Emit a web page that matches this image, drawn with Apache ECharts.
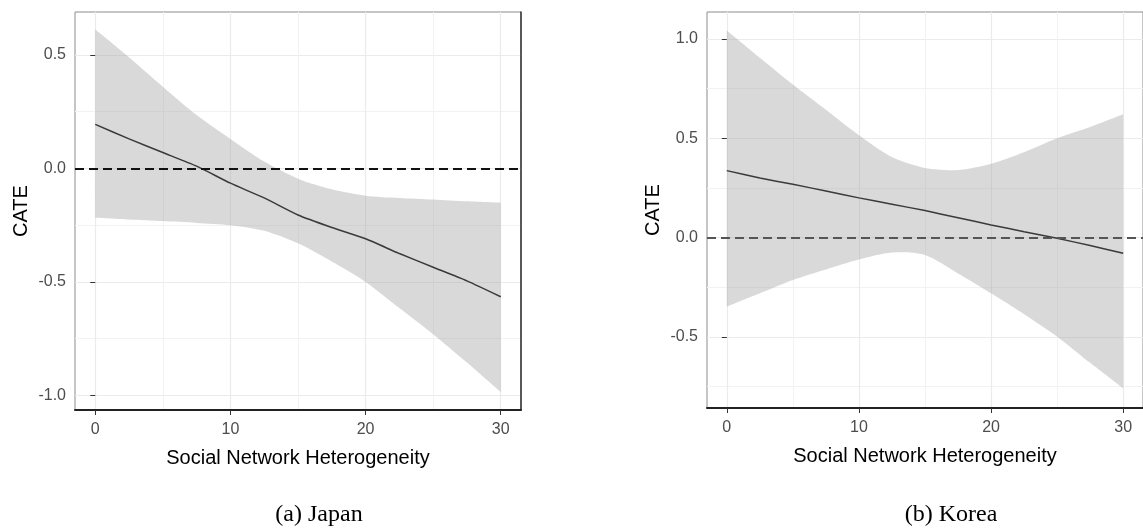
<!DOCTYPE html>
<html>
<head>
<meta charset="utf-8">
<script src="https://cdn.jsdelivr.net/npm/echarts@6/dist/echarts.min.js"></script>
<style>
html,body{margin:0;padding:0;background:#fff;}
#chart{width:1143px;height:531px;}
</style>
</head>
<body>
<div id="chart"></div>
<script>
// ---- data ----
const xVals = [0, 2.5, 5, 7.5, 10, 12.5, 15, 17.5, 20, 22.5, 25, 27.5, 30];

const japanUpper = [0.612, 0.49, 0.36, 0.235, 0.13, 0.03, -0.045, -0.092, -0.12, -0.13, -0.137, -0.145, -0.151];
const japanLower = [-0.217, -0.225, -0.232, -0.24, -0.25, -0.275, -0.33, -0.41, -0.5, -0.615, -0.73, -0.855, -0.985];
const japanFit   = [0.194, 0.13, 0.07, 0.01, -0.065, -0.13, -0.205, -0.26, -0.31, -0.375, -0.435, -0.495, -0.565];

const koreaUpper = [1.042, 0.905, 0.77, 0.643, 0.515, 0.405, 0.35, 0.34, 0.372, 0.43, 0.5, 0.557, 0.621];
const koreaLower = [-0.347, -0.28, -0.213, -0.16, -0.11, -0.075, -0.087, -0.18, -0.28, -0.385, -0.498, -0.63, -0.758];
const koreaFit   = [0.337, 0.30, 0.268, 0.235, 0.20, 0.168, 0.136, 0.10, 0.064, 0.03, -0.003, -0.04, -0.079];

const xTicks = [0, 10, 20, 30];
const xMinor = [5, 15, 25];
const japanYTicks = [-1, -0.5, 0, 0.5];
const japanYMinor = [-0.75, -0.25, 0.25];
const koreaYTicks = [-0.5, 0, 0.5, 1];
const koreaYMinor = [-0.75, -0.25, 0.25, 0.75];

const xTitle = 'Social Network Heterogeneity';
const yTitle = 'CATE';
const captions = ['(a) Japan', '(b) Korea'];

// ---- helpers ----
const pairs = (xs, ys) => xs.map((x, i) => [x, ys[i]]);
const bandRows = (xs, up, lo) => xs.map((x, i) => [x, up[i], lo[i]]);

const SANS = 'Liberation Sans, Arial, sans-serif';
const gridLine = {show: true, lineStyle: {color: '#ebebeb', width: 1.2}};
const minorLine = {show: true, lineStyle: {color: '#f2f2f2', width: 1}};

// Catmull-Rom -> cubic bezier path segments through pixel points
function curveSegs(pts) {
  let s = '';
  for (let i = 0; i < pts.length - 1; i++) {
    const p0 = pts[Math.max(0, i - 1)], p1 = pts[i], p2 = pts[i + 1], p3 = pts[Math.min(pts.length - 1, i + 2)];
    const t = 0.8;
    const c1x = p1[0] + (p2[0] - p0[0]) / 6 * t, c1y = p1[1] + (p2[1] - p0[1]) / 6 * t;
    const c2x = p2[0] - (p3[0] - p1[0]) / 6 * t, c2y = p2[1] - (p3[1] - p1[1]) / 6 * t;
    s += ' C' + c1x + ',' + c1y + ' ' + c2x + ',' + c2y + ' ' + p2[0] + ',' + p2[1];
  }
  return s;
}

function mainX(gi) {
  return {
    type: 'value', gridIndex: gi, min: -1.5, max: 31.5, position: 'bottom',
    name: xTitle, nameLocation: 'middle', nameGap: 38,
    nameTextStyle: {fontFamily: SANS, fontSize: 20, color: '#000'},
    axisLine: {show: true, onZero: false, lineStyle: {color: '#222', width: 2}},
    axisTick: {show: true, length: 5, customValues: xTicks, lineStyle: {color: '#333', width: 1}},
    axisLabel: {show: true, customValues: xTicks, margin: 12, fontFamily: SANS, fontSize: 16, color: '#4d4d4d'},
    splitLine: gridLine
  };
}
function minorX(gi) {
  return {
    type: 'value', gridIndex: gi, min: -1.5, max: 31.5, position: 'bottom',
    axisLine: {show: false}, axisLabel: {show: false},
    axisTick: {show: false, customValues: xMinor},
    splitLine: minorLine
  };
}
function mainY(gi, min, max, ticks) {
  return {
    type: 'value', gridIndex: gi, min: min, max: max, position: 'left',
    name: yTitle, nameLocation: 'middle', nameGap: 44,
    nameTextStyle: {fontFamily: SANS, fontSize: 20, color: '#000'},
    axisLine: {show: false},
    axisTick: {show: true, length: 5, customValues: ticks, lineStyle: {color: '#333', width: 1}},
    axisLabel: {show: true, customValues: ticks, margin: 9, fontFamily: SANS, fontSize: 16, color: '#4d4d4d',
      formatter: v => Number(v).toFixed(1)},
    splitLine: gridLine
  };
}
function minorY(gi, min, max, ticks, rightEdge) {
  return {
    type: 'value', gridIndex: gi, min: min, max: max, position: 'right',
    axisLine: {show: !!rightEdge, onZero: false, lineStyle: {color: '#333', width: 1.5}},
    axisLabel: {show: false},
    axisTick: {show: false, customValues: ticks},
    splitLine: minorLine
  };
}

function panelSeries(xi, yi, up, lo, fit, dashColor) {
  const rows = bandRows(xVals, up, lo);
  return [
    {
      type: 'custom', xAxisIndex: xi, yAxisIndex: yi, data: rows, silent: true, z: 2,
      encode: {x: 0, y: [1, 2]},
      renderItem: function (params, api) {
        if (params.dataIndex !== 0) return null;
        const top = rows.map(r => api.coord([r[0], r[1]]));
        const bot = rows.map(r => api.coord([r[0], r[2]])).reverse();
        let d = 'M' + top[0][0] + ',' + top[0][1] + curveSegs(top);
        d += ' L' + bot[0][0] + ',' + bot[0][1] + curveSegs(bot) + ' Z';
        return {type: 'path', shape: {pathData: d}, style: {fill: 'rgba(160,160,160,0.4)', stroke: null}};
      }
    },
    {
      type: 'line', xAxisIndex: xi, yAxisIndex: yi, data: [], silent: true, z: 3,
      markLine: {
        silent: true, symbol: 'none', label: {show: false},
        lineStyle: {type: [9, 5], color: dashColor, width: 2},
        data: [{yAxis: 0}]
      }
    },
    {
      type: 'line', xAxisIndex: xi, yAxisIndex: yi, data: pairs(xVals, fit),
      symbol: 'none', smooth: 0.2, silent: true, z: 4,
      lineStyle: {color: '#3a3a3a', width: 1.5}
    }
  ];
}

const chart = echarts.init(document.getElementById('chart'), null, {renderer: 'canvas'});
chart.setOption({
  animation: false,
  backgroundColor: '#fff',
  grid: [
    {left: 75, top: 12, width: 446, height: 398, show: true, borderColor: '#8c8c8c', borderWidth: 1, containLabel: false},
    {left: 707, top: 12, width: 444, height: 396, show: true, borderColor: '#8c8c8c', borderWidth: 1, containLabel: false}
  ],
  xAxis: [mainX(0), minorX(0), mainX(1), minorX(1)],
  yAxis: [
    mainY(0, -1.064, 0.689, japanYTicks), minorY(0, -1.064, 0.689, japanYMinor, true),
    mainY(1, -0.857, 1.135, koreaYTicks), minorY(1, -0.857, 1.135, koreaYMinor, false)
  ],
  series: [].concat(
    panelSeries(0, 0, japanUpper, japanLower, japanFit, '#111'),
    panelSeries(2, 2, koreaUpper, koreaLower, koreaFit, '#555')
  ),
  graphic: [
    {type: 'text', x: 319, y: 515, silent: true,
      style: {text: captions[0], align: 'center', verticalAlign: 'middle', textAlign: 'center', textVerticalAlign: 'middle',
        fontFamily: 'Liberation Serif, Times New Roman, serif', fontSize: 24, fill: '#000'}},
    {type: 'text', x: 951, y: 515, silent: true,
      style: {text: captions[1], align: 'center', verticalAlign: 'middle', textAlign: 'center', textVerticalAlign: 'middle',
        fontFamily: 'Liberation Serif, Times New Roman, serif', fontSize: 24, fill: '#000'}}
  ]
});
</script>
</body>
</html>
